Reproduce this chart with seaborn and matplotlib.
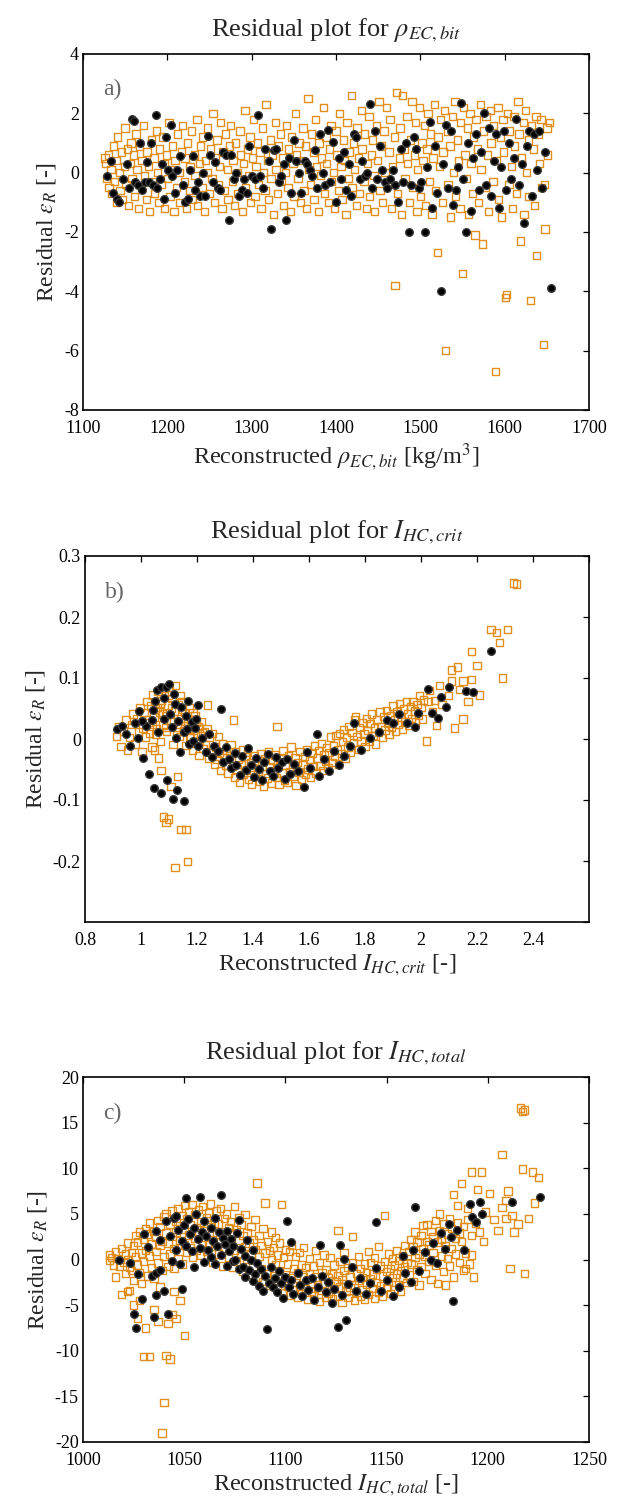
import matplotlib
matplotlib.use("Agg")
import matplotlib.pyplot as plt
import seaborn as sns

# ---------------- data ----------------
# Panel a: rho_EC,bit
a_orange = [
(1126,0.5),(1127,0.3),(1128,-0.2),(1130,0.6),(1131,-0.5),(1133,0.1),(1134,-0.7),(1136,0.9),(1137,-0.3),(1139,0.4),
(1140,-1.0),(1141,1.2),(1143,0.0),(1144,-0.6),(1146,0.7),(1147,-0.9),(1149,0.2),(1150,1.5),(1151,-0.4),(1153,0.8),
(1154,-1.1),(1156,0.3),(1157,1.0),(1158,-0.2),(1160,0.6),(1161,-0.8),(1163,1.3),(1164,0.1),(1166,-1.2),(1167,0.9),
(1169,-0.5),(1170,0.4),(1172,1.6),(1173,-0.1),(1175,-0.9),(1176,0.7),(1178,0.2),(1179,-1.3),(1181,1.1),(1182,-0.3),
(1184,0.5),(1185,-0.7),(1187,1.4),(1188,0.0),(1190,-1.0),(1191,0.8),(1193,-0.4),(1194,1.2),(1196,0.3),(1197,-1.2),
(1199,0.6),(1200,-0.2),(1202,1.7),(1203,-0.8),(1205,0.1),(1206,0.9),(1208,-1.3),(1209,0.4),(1211,-0.5),(1212,1.3),
(1214,0.0),(1215,-1.0),(1217,0.7),(1218,1.6),(1220,-0.3),(1221,0.5),(1223,-1.2),(1224,1.0),(1226,-0.6),(1227,0.2),
(1229,1.4),(1230,-0.9),(1232,0.6),(1233,-0.1),(1235,1.8),(1236,-1.1),(1238,0.3),(1239,0.9),(1241,-0.5),(1242,1.2),
(1244,-1.3),(1245,0.4),(1247,0.0),(1248,1.5),(1250,-0.7),(1251,0.8),(1253,-0.2),(1254,2.0),(1256,-1.0),(1257,0.5),
(1259,1.1),(1260,-0.4),(1262,0.2),(1263,1.7),(1265,-1.2),(1266,0.7),(1268,-0.6),(1269,1.3),(1271,0.1),(1272,-0.9),
(1274,0.9),(1275,1.6),(1277,-0.3),(1278,0.4),(1280,-1.1),(1281,1.0),(1283,0.0),(1284,-0.7),(1286,1.4),(1287,0.6),
(1289,-1.3),(1290,0.3),(1292,2.1),(1293,-0.5),(1295,0.8),(1296,-0.1),(1298,1.2),(1299,-1.0),(1301,0.5),(1302,1.8),
(1304,-0.8),(1305,0.2),(1307,1.0),(1308,-0.4),(1310,0.7),(1311,-1.2),(1313,1.5),(1314,0.0),(1316,-0.6),(1317,2.3),
(1319,0.4),(1320,-0.9),(1322,1.1),(1323,-0.2),(1325,0.6),(1326,-1.4),(1328,1.7),(1329,0.1),(1331,-0.7),(1332,0.9),
(1334,1.3),(1335,-0.3),(1337,0.5),(1338,-1.1),(1340,0.0),(1341,1.6),(1343,-0.5),(1344,0.8),(1346,-1.3),(1347,1.2),
(1349,0.3),(1350,-0.8),(1352,2.0),(1353,0.6),(1355,-0.2),(1356,1.0),(1358,-1.0),(1359,0.4),(1361,1.5),(1362,-0.6),
(1364,0.9),(1365,-1.2),(1367,2.5),(1368,0.1),(1370,-0.4),(1371,1.3),(1373,0.7),(1374,-0.9),(1376,1.8),(1377,0.2),
(1379,-1.3),(1380,1.0),(1382,-0.1),(1383,0.5),(1385,2.2),(1386,-0.7),(1388,1.2),(1389,0.3),(1391,-1.0),(1392,0.8),
(1394,1.6),(1395,-0.3),(1397,0.0),(1398,-1.2),(1400,1.4),(1401,0.6),(1403,-0.6),(1404,2.0),(1406,0.2),(1407,-0.9),
(1409,1.1),(1410,0.4),(1412,-1.4),(1413,1.7),(1415,-0.2),(1416,0.7),(1418,2.6),(1419,-0.5),(1421,1.0),(1422,0.1),
(1424,-1.1),(1425,1.5),(1427,0.5),(1428,-0.7),(1430,2.1),(1431,0.8),(1433,-0.3),(1434,1.3),(1436,-1.2),(1437,0.3),
(1439,1.9),(1440,-0.8),(1442,0.6),(1443,1.1),(1445,-0.1),(1446,-1.3),(1448,1.6),(1449,0.4),(1451,2.4),(1452,-0.6),
(1454,0.9),(1455,-1.0),(1457,1.4),(1458,0.0),(1460,2.2),(1461,-0.4),(1463,0.7),(1464,1.8),(1466,-1.2),(1467,0.2),
(1469,1.2),(1470,-3.8),(1472,2.7),(1473,-0.7),(1475,0.5),(1476,1.5),(1478,-1.4),(1479,2.6),(1481,0.8),(1482,-0.2),
(1484,1.9),(1485,0.3),(1487,-1.0),(1488,1.1),(1490,2.4),(1491,-0.5),(1493,0.6),(1494,1.7),(1496,-1.3),(1497,0.1),
(1499,2.2),(1500,-0.8),(1502,1.0),(1503,0.4),(1505,1.6),(1506,-1.1),(1508,0.8),(1509,2.0),(1511,-0.3),(1512,1.3),
(1514,-1.4),(1515,0.5),(1517,2.3),(1518,-0.6),(1520,-2.7),(1521,1.2),(1523,0.2),(1524,1.8),(1526,-1.0),(1527,0.7),
(1529,2.1),(1530,-6.0),(1532,1.4),(1533,-0.4),(1535,0.9),(1536,-1.5),(1538,1.9),(1539,0.0),(1541,2.4),(1542,-0.8),
(1544,1.1),(1545,0.4),(1547,-1.2),(1548,1.7),(1550,-3.4),(1551,2.2),(1553,0.6),(1554,-0.2),(1556,1.5),(1557,-1.4),
(1559,2.0),(1560,0.3),(1562,-0.7),(1563,1.2),(1565,-2.1),(1566,1.8),(1568,0.8),(1569,-1.0),(1571,2.3),(1572,0.1),
(1574,-2.4),(1575,1.4),(1577,-0.5),(1578,1.9),(1580,0.6),(1581,-1.3),(1583,2.1),(1584,1.0),(1586,-0.3),(1587,1.6),
(1589,-6.7),(1590,0.4),(1592,2.2),(1593,-0.9),(1595,1.2),(1596,-1.5),(1598,1.8),(1599,0.7),(1601,-4.2),(1602,-4.1),
(1603,2.0),(1605,-0.4),(1606,1.4),(1608,0.2),(1609,-1.2),(1611,1.9),(1612,0.9),(1614,-0.7),(1616,2.4),(1617,1.3),
(1619,-2.3),(1620,0.5),(1622,1.7),(1623,-1.4),(1625,2.1),(1626,0.0),(1628,1.1),(1629,-0.8),(1631,-4.3),(1632,1.6),
(1634,0.8),(1635,-1.1),(1637,1.9),(1638,-2.8),(1640,1.3),(1641,0.3),(1643,1.8),(1644,-0.5),(1646,-5.8),(1647,-0.4),
(1648,-1.9),(1650,1.5),(1651,0.6),(1653,1.7),
]
a_black = [
(1128,-0.1),(1133,0.4),(1135,-0.7),(1140,-0.9),(1143,-1.0),(1148,-0.2),(1152,0.3),(1155,-0.5),(1158,1.8),(1160,1.75),
(1162,-0.3),(1165,-0.4),(1168,1.0),(1170,-0.6),(1173,-0.3),(1176,0.35),(1178,-0.3),(1181,1.0),(1183,-0.4),(1186,1.95),
(1188,-0.5),(1191,-0.2),(1194,0.3),(1196,-0.9),(1199,1.2),(1201,0.1),(1204,1.6),(1206,-0.1),(1209,-0.7),(1212,0.1),
(1215,0.55),(1218,-0.4),(1221,-1.0),(1224,-0.9),(1227,0.1),(1230,0.55),(1233,-0.6),(1236,-0.3),(1239,-0.8),(1242,0.0),
(1245,-0.8),(1248,1.25),(1251,0.6),(1254,-0.3),(1257,0.35),(1260,-0.5),(1263,-0.6),(1266,0.7),(1270,0.6),(1273,-1.6),
(1276,0.6),(1279,-0.2),(1282,0.0),(1285,-0.8),(1288,-0.6),(1291,-0.2),(1294,-0.7),(1297,0.9),(1300,-0.1),(1304,-0.2),
(1307,1.95),(1310,-0.1),(1313,-0.5),(1316,0.8),(1320,0.4),(1323,-1.9),(1326,0.75),(1329,0.8),(1332,-0.3),(1335,-0.1),
(1338,0.3),(1341,-1.6),(1344,0.5),(1347,-0.7),(1350,1.1),(1353,0.4),(1356,0.0),(1359,-0.7),(1363,0.4),(1366,0.3),
(1369,0.1),(1372,-0.1),(1375,0.75),(1378,-0.5),(1381,1.3),(1384,0.0),(1387,-0.4),(1390,1.45),(1393,-0.3),(1397,1.05),
(1400,-1.0),(1403,0.5),(1406,-0.2),(1409,0.7),(1412,-0.6),(1415,0.3),(1418,-0.8),(1421,1.3),(1424,1.2),(1428,-0.2),
(1431,0.4),(1434,-0.1),(1437,0.0),(1440,2.3),(1443,-0.5),(1446,1.4),(1449,-0.2),(1452,0.9),(1455,0.1),(1458,-0.3),
(1461,-0.5),(1464,-0.2),(1467,0.1),(1470,-0.4),(1474,-1.0),(1477,0.8),(1480,-0.3),(1483,1.0),(1486,-2.0),(1489,-0.4),
(1492,1.2),(1495,0.8),(1498,-0.5),(1501,-0.3),(1505,-2.0),(1508,0.2),(1511,1.7),(1514,-1.2),(1517,0.9),(1520,-0.7),
(1524,-4.0),(1527,0.3),(1530,1.6),(1533,-0.5),(1536,1.4),(1539,-1.1),(1542,-0.6),(1545,0.2),(1548,2.35),(1551,-0.2),
(1554,-2.0),(1557,1.0),(1560,-1.3),(1563,0.5),(1566,1.3),(1569,-0.6),(1572,0.7),(1575,2.0),(1578,-0.4),(1581,1.5),
(1584,-0.8),(1587,0.4),(1590,1.3),(1593,-1.2),(1596,0.2),(1599,1.4),(1602,-0.6),(1605,1.0),(1608,-0.2),(1611,0.5),
(1614,1.8),(1617,-0.4),(1620,0.3),(1623,-1.7),(1626,0.9),(1629,1.4),(1632,-0.8),(1635,1.3),(1638,0.1),(1641,1.4),
(1644,-0.5),(1648,0.7),(1655,-3.9),
]

# Panel b: I_HC,crit
b_orange = [
(0.912,0.004),(0.921,0.021),(0.928,-0.012),(0.937,0.013),(0.946,0.031),(0.951,-0.018),(0.958,0.002),(0.966,0.024),(0.972,0.041),(0.979,-0.008),
(0.984,0.033),(0.991,0.012),(0.996,0.052),(1.003,-0.021),(1.007,0.018),(1.013,0.043),(1.016,0.003),(1.022,0.061),(1.025,0.027),(1.031,0.009),
(1.034,0.054),(1.039,-0.013),(1.043,0.072),(1.047,0.036),(1.052,0.049),(1.056,0.017),(1.061,0.078),(1.066,0.044),(1.069,-0.004),(1.074,0.063),
(1.078,0.023),(1.083,0.071),(1.087,0.038),(1.092,0.012),(1.096,0.056),(1.101,0.084),(1.106,0.031),(1.111,0.066),(1.114,-0.009),(1.119,0.046),
(1.124,0.088),(1.128,0.019),(1.133,0.057),(1.137,0.004),(1.142,0.034),(1.147,0.062),(1.151,0.013),(1.156,0.043),(1.161,-0.011),(1.165,0.022),
(1.171,0.051),(1.174,0.002),(1.179,0.031),(1.184,-0.018),(1.188,0.014),(1.193,0.038),(1.197,-0.007),(1.203,0.021),(1.207,-0.027),(1.212,0.006),
(1.216,0.029),(1.221,-0.016),(1.238,0.056),(1.226,0.012),(1.231,-0.009),(1.236,0.017),(1.241,-0.031),(1.245,0.002),(1.251,-0.022),(1.256,0.009),
(1.262,-0.041),(1.266,-0.013),(1.271,-0.034),(1.276,0.004),(1.281,-0.024),(1.285,-0.052),(1.291,-0.008),(1.295,-0.031),(1.301,-0.043),(1.306,-0.018),
(1.331,0.031),(1.311,-0.056),(1.316,-0.027),(1.321,-0.009),(1.326,-0.044),(1.334,-0.063),(1.338,-0.021),(1.343,-0.049),(1.348,-0.033),(1.352,-0.071),
(1.357,-0.042),(1.362,-0.017),(1.366,-0.058),(1.371,-0.029),(1.376,-0.051),(1.381,-0.022),(1.385,-0.066),(1.39,-0.038),(1.395,-0.074),(1.399,-0.047),
(1.404,-0.027),(1.409,-0.061),(1.413,-0.036),(1.418,-0.053),(1.423,-0.069),(1.427,-0.024),(1.432,-0.044),(1.437,-0.077),(1.441,-0.032),(1.446,-0.057),
(1.451,-0.064),(1.455,-0.021),(1.46,-0.046),(1.465,-0.072),(1.469,-0.035),(1.474,-0.052),(1.486,0.02),(1.479,-0.026),(1.484,-0.063),(1.488,-0.041),
(1.493,-0.075),(1.498,-0.033),(1.503,-0.056),(1.507,-0.019),(1.512,-0.067),(1.517,-0.043),(1.521,-0.071),(1.526,-0.028),(1.531,-0.054),(1.536,-0.013),
(1.54,-0.047),(1.545,-0.062),(1.55,-0.031),(1.554,-0.076),(1.559,-0.038),(1.564,-0.055),(1.568,-0.021),(1.573,-0.066),(1.578,-0.042),(1.583,-0.029),
(1.587,-0.058),(1.592,-0.017),(1.597,-0.049),(1.601,-0.034),(1.606,-0.063),(1.611,-0.024),(1.616,-0.045),(1.62,-0.011),(1.625,-0.056),(1.63,-0.031),
(1.635,-0.019),(1.639,-0.043),(1.644,-0.007),(1.649,-0.052),(1.654,-0.026),(1.658,-0.036),(1.663,-0.014),(1.668,-0.047),(1.672,-0.022),(1.677,0.003),
(1.682,-0.038),(1.687,-0.011),(1.691,-0.029),(1.696,0.006),(1.701,-0.018),(1.706,-0.041),(1.71,0.009),(1.715,-0.024),(1.72,-0.004),(1.724,0.016),
(1.729,-0.031),(1.734,0.002),(1.739,-0.013),(1.743,0.021),(1.748,-0.022),(1.753,0.011),(1.758,-0.006),(1.762,0.031),(1.767,0.036),(1.772,0.004),
(1.777,-0.017),(1.781,0.019),(1.786,-0.003),(1.791,0.027),(1.796,0.008),(1.8,-0.012),(1.805,0.034),(1.81,0.014),(1.815,-0.004),(1.819,0.025),
(1.824,0.041),(1.829,0.006),(1.834,0.018),(1.838,-0.008),(1.843,0.032),(1.848,0.011),(1.853,0.044),(1.857,0.021),(1.862,0.002),(1.867,0.037),
(1.872,0.015),(1.876,0.047),(1.881,0.026),(1.886,0.008),(1.891,0.039),(1.895,0.019),(1.9,0.054),(1.905,0.031),(1.91,0.012),(1.914,0.044),
(1.919,0.024),(1.924,0.058),(1.929,0.036),(1.933,0.016),(1.938,0.049),(1.943,0.029),(1.948,0.061),(1.952,0.041),(1.957,0.022),(1.962,0.053),
(1.967,0.034),(1.971,0.062),(1.976,0.046),(1.981,0.028),(1.986,0.057),(1.99,0.039),(1.995,0.071),(2.0,0.052),(2.005,0.033),(2.01,0.064),
(2.02,-0.003),(2.025,0.061),(2.031,0.079),(2.04,0.044),(2.048,0.063),(2.056,0.022),(2.066,0.088),(2.075,0.057),(2.11,0.113),(2.13,0.118),
(2.098,0.071),(2.11,0.095),(2.12,0.018),(2.15,0.033),(2.138,0.081),(2.15,0.095),(2.18,0.098),(2.18,0.143),(2.168,0.061),(2.2,0.121),
(2.21,0.072),(2.25,0.179),(2.27,0.175),(2.28,0.158),(2.29,0.10),(2.31,0.179),(2.33,0.256),(2.34,0.254),
(1.048,-0.018),(1.063,-0.031),(1.072,-0.052),(1.081,-0.128),(1.089,-0.137),(1.098,-0.131),(1.107,-0.078),(1.122,-0.211),(1.131,-0.062),(1.143,-0.148),
(1.161,-0.148),(1.165,-0.201),
(1.041,0.024),(1.058,0.052),(1.076,0.041),(1.098,0.072),(1.116,0.028),(1.139,0.071),(1.158,0.029),(1.177,0.004),(1.196,0.027),(1.219,0.011),
(1.029,0.031),(1.051,0.008),(1.068,0.058),(1.089,0.019),(1.108,0.051),(1.127,0.012),(1.149,0.048),(1.168,0.017),(1.186,0.043),(1.209,-0.003),
]
b_black = [
(0.915,0.017),(0.931,0.021),(0.948,0.008),(0.962,-0.012),(0.977,0.026),(0.988,0.002),(0.993,0.046),(1.008,-0.031),(1.019,0.022),(1.028,-0.058),
(1.038,0.031),(1.049,0.062),(1.047,-0.081),(1.061,0.012),(1.056,0.08),(1.072,-0.089),(1.07,0.086),(1.081,0.033),(1.089,0.085),(1.093,-0.068),
(1.102,0.041),(1.10,0.09),(1.112,0.019),(1.114,-0.098),(1.121,0.058),(1.124,0.002),(1.133,0.029),(1.129,-0.083),(1.142,0.052),(1.141,-0.021),
(1.153,0.012),(1.152,-0.101),(1.161,0.038),(1.166,0.017),(1.173,-0.008),(1.169,0.062),(1.182,0.028),(1.187,-0.003),(1.194,0.018),(1.203,-0.012),
(1.198,0.033),(1.205,0.056),(1.219,0.002),(1.231,-0.021),(1.242,0.008),(1.253,-0.029),(1.262,-0.011),(1.286,0.049),(1.274,-0.019),(1.293,-0.038),
(1.302,-0.013),(1.313,-0.032),(1.322,-0.048),(1.334,-0.023),(1.341,-0.042),(1.353,-0.059),(1.362,-0.028),(1.374,-0.051),(1.383,-0.014),(1.392,-0.043),
(1.404,-0.062),(1.411,-0.031),(1.423,-0.049),(1.432,-0.068),(1.441,-0.038),(1.452,-0.024),(1.461,-0.053),(1.473,-0.061),(1.482,-0.029),(1.491,-0.047),
(1.502,-0.038),(1.513,-0.066),(1.522,-0.032),(1.533,-0.057),(1.548,-0.041),(1.561,-0.052),(1.582,-0.079),(1.593,-0.021),(1.604,-0.048),(1.63,0.008),
(1.634,-0.061),(1.652,-0.032),(1.671,-0.053),(1.689,-0.019),(1.708,-0.042),(1.726,-0.028),(1.748,-0.012),(1.76,0.026),(1.787,-0.018),(1.818,0.002),
(1.849,0.012),(1.877,0.031),(1.90,0.027),(1.921,0.041),(1.95,0.027),(1.99,0.043),(1.978,0.019),(2.025,0.082),(2.06,0.035),(2.041,0.042),
(2.07,0.069),(2.09,0.053),(2.10,0.085),(2.16,0.078),(2.185,0.077),(2.25,0.145),(1.043,0.047),(1.083,0.068),(1.118,0.073),(1.003,0.029),
]

# Panel c: I_HC,total
c_orange = [
(1013,0.5),(1013,-0.1),(1014,0.2),(1015,-0.6),(1016,-1.9),(1016,0.9),(1017,0.1),(1018,-0.8),(1019,-3.8),(1019,1.2),
(1020,-0.3),(1021,0.6),(1021,-1.5),(1022,0.0),(1022,1.8),(1023,-0.9),(1023,-3.4),(1024,0.8),(1024,-1.2),(1025,1.5),
(1025,-2.3),(1026,0.3),(1026,2.6),(1027,-0.6),(1027,1.9),(1028,-1.4),(1028,3.0),(1029,0.7),(1029,-2.6),(1030,2.2),
(1030,-0.2),(1031,3.4),(1031,1.0),(1032,-1.8),(1032,2.8),(1033,0.4),(1033,4.0),(1034,-0.9),(1034,1.7),(1035,3.1),
(1035,-2.1),(1036,0.9),(1036,2.4),(1037,4.3),(1037,-0.4),(1038,1.5),(1038,3.6),(1039,-1.2),(1039,2.0),(1040,4.7),
(1040,0.3),(1041,2.9),(1041,5.0),(1042,-0.8),(1042,1.8),(1043,3.9),(1043,0.6),(1044,2.5),(1044,5.3),(1045,-1.0),
(1045,1.2),(1046,4.2),(1046,3.0),(1047,0.1),(1047,5.6),(1048,2.1),(1048,3.7),(1049,-0.5),(1049,4.8),(1050,1.6),
(1050,3.3),(1050,5.9),(1051,0.8),(1051,4.5),(1052,2.7),(1052,5.2),(1053,1.3),(1053,3.8),(1054,6.0),(1054,0.2),
(1055,2.3),(1055,4.9),(1056,3.5),(1056,1.0),(1057,5.5),(1057,2.9),(1058,4.1),(1058,0.5),(1059,1.9),(1059,5.8),
(1060,3.2),(1060,2.4),(1061,4.6),(1061,0.9),(1062,5.1),(1062,1.7),(1063,3.6),(1063,6.1),(1064,2.2),(1064,-0.3),
(1065,4.0),(1065,1.4),(1066,5.3),(1066,2.8),(1067,0.6),(1067,3.9),(1068,1.9),(1068,5.6),(1069,-0.7),(1069,3.1),
(1070,4.5),(1070,1.2),(1071,2.5),(1071,5.0),(1072,0.2),(1072,3.5),(1073,1.6),(1073,4.2),(1074,-0.9),(1074,2.9),
(1075,5.8),(1075,1.0),(1076,3.3),(1076,-0.2),(1077,2.1),(1077,4.6),(1078,0.7),(1078,3.8),(1079,-1.3),(1079,2.6),
(1080,1.4),(1080,4.9),(1081,0.0),(1081,2.9),(1082,-1.6),(1082,1.8),(1083,3.6),(1083,0.5),(1084,-0.8),(1084,2.2),
(1085,1.1),(1085,4.4),(1086,8.4),(1086,-1.9),(1087,0.3),(1087,2.6),(1088,-1.0),(1088,1.5),(1089,3.4),(1089,-2.4),
(1090,6.2),(1090,0.7),(1091,-1.5),(1091,2.0),(1092,1.0),(1092,-2.8),(1093,0.0),(1093,3.0),(1094,-1.8),(1094,1.3),
(1095,-0.6),(1095,2.4),(1096,-3.1),(1096,0.5),(1097,-1.2),(1097,1.8),(1098,-2.4),(1098,6.0),(1099,0.2),(1099,-3.6),
(1100,-1.7),(1100,1.1),(1101,-2.9),(1101,-0.5),(1102,0.9),(1102,-3.9),(1103,-2.0),(1103,1.6),(1104,-1.0),(1104,-3.3),
(1105,0.3),(1105,-2.5),(1106,-4.1),(1106,-1.4),(1107,0.8),(1107,-2.9),(1108,-0.6),(1108,-3.7),(1109,-1.9),(1109,1.3),
(1110,-3.2),(1110,-0.9),(1111,-2.2),(1111,-4.4),(1112,0.1),(1112,-1.6),(1113,-3.5),(1113,-2.6),(1114,-0.7),(1114,-4.0),
(1115,-1.9),(1115,1.0),(1116,-3.0),(1116,-2.3),(1117,-0.3),(1117,-4.6),(1118,-1.4),(1118,-3.4),(1119,-2.7),(1119,0.5),
(1120,-4.1),(1120,-1.1),(1121,-2.0),(1121,-3.7),(1122,0.2),(1122,-2.9),(1123,-1.5),(1123,-4.3),(1124,-3.2),(1124,-0.6),
(1125,-2.4),(1126,3.2),(1126,-4.0),(1126,-1.8),(1127,-0.2),(1127,-3.0),(1128,-2.2),(1128,-4.7),(1129,-1.2),(1129,0.8),
(1130,-3.5),(1130,-2.6),(1131,-0.9),(1131,-4.2),(1132,-1.9),(1132,-3.1),(1133,2.5),(1133,-0.4),(1134,-2.8),(1134,-4.5),
(1135,-1.5),(1135,-3.6),(1136,0.3),(1136,-2.3),(1137,-4.0),(1137,-1.0),(1138,-3.3),(1138,-2.0),(1139,-0.5),(1139,-4.4),
(1140,-2.7),(1140,-1.4),(1141,-3.8),(1141,0.9),(1142,-2.1),(1142,-0.3),(1143,-3.2),(1143,-1.6),(1144,-4.3),(1144,0.2),
(1145,-2.5),(1145,-1.1),(1146,-3.6),(1146,1.4),(1147,-0.7),(1147,-2.9),(1148,-1.8),(1148,-4.0),(1149,4.8),(1149,-0.2),
(1150,-3.1),(1150,-1.3),(1151,-2.4),(1151,0.6),(1152,-3.7),(1152,-1.0),(1153,-2.0),(1153,0.1),(1154,-3.3),(1154,-0.6),
(1155,-1.6),(1155,1.0),(1156,-2.8),(1156,-0.1),(1157,-1.2),(1157,-3.5),(1158,0.4),(1158,-2.1),(1159,-0.8),(1159,1.5),
(1160,-2.5),(1160,-0.3),(1161,0.9),(1161,-1.7),(1162,2.2),(1162,-0.5),(1163,-2.4),(1163,1.4),(1164,0.2),(1164,3.0),
(1165,-1.1),(1165,1.9),(1166,-2.8),(1166,0.6),(1167,2.6),(1167,-0.8),(1168,1.2),(1168,3.7),(1169,-1.5),(1169,0.3),
(1170,3.8),(1170,2.0),(1171,-0.2),(1171,1.6),(1172,3.1),(1172,-2.2),(1173,0.8),(1173,2.5),(1174,4.3),(1174,-0.6),
(1175,1.9),(1175,-2.6),(1176,5.0),(1176,3.2),(1177,0.4),(1177,2.2),(1178,-1.3),(1178,3.9),(1179,1.5),(1179,-2.8),
(1180,2.8),(1180,0.1),(1181,4.5),(1181,-0.7),(1182,1.2),(1182,3.4),(1183,7.1),(1183,-1.9),(1184,2.3),(1184,0.6),
(1185,5.9),(1185,4.0),(1186,-0.3),(1186,2.9),(1187,8.3),(1187,2.0),(1188,3.6),(1188,-1.2),(1189,0.7),(1189,-1.0),
(1190,5.6),(1190,4.4),(1191,-0.5),(1192,9.6),(1192,2.6),(1192,0.5),(1193,-1.9),(1194,4.0),(1195,7.7),(1196,3.0),
(1197,9.6),(1198,2.0),(1199,5.2),(1201,7.2),(1203,4.4),(1205,3.2),(1207,11.5),(1207,5.7),(1209,6.5),(1209,4.5),
(1210,7.5),(1211,-1.0),(1212,4.8),(1213,3.0),(1215,3.9),(1216,16.6),(1217,16.2),(1217,9.9),(1218,-1.5),(1218,16.4),
(1220,4.5),(1222,9.6),(1225,9.0),(1223,6.2),
(1022,-3.5),(1025,-5.0),(1027,-6.5),(1028,-4.5),(1030,-10.6),(1033,-10.6),(1031,-7.5),(1035,-5.5),(1037,-6.8),(1039,-19.0),
(1040,-15.7),(1041,-10.5),(1043,-10.9),(1042,-7.0),(1044,-6.0),(1046,-6.5),(1048,-4.5),(1050,-8.3),(1038,-3.0),(1045,-3.5),
]
c_black = [
(1018,-0.1),(1023,-0.4),(1025,-6.0),(1026,-7.5),(1027,-1.6),(1029,-4.3),(1030,2.8),(1032,1.4),(1034,-1.8),(1035,-6.3),
(1036,-1.5),(1036,3.1),(1036,-3.9),(1038,-1.2),(1038,2.1),(1040,-3.5),(1041,4.2),(1042,-6.0),(1043,2.6),(1044,-0.2),
(1045,4.5),(1046,4.8),(1046,1.0),(1047,3.2),(1048,-0.5),(1049,-3.2),(1049,2.0),(1050,3.8),(1051,6.7),(1051,1.5),
(1052,4.4),(1053,2.8),(1054,0.9),(1055,3.5),(1055,-0.8),(1056,5.0),(1057,2.2),(1058,6.8),(1058,1.3),(1059,3.0),
(1060,4.2),(1060,-0.3),(1061,2.6),(1062,1.0),(1063,3.4),(1063,0.3),(1064,2.0),(1065,4.6),(1065,-0.5),(1066,1.5),
(1067,3.0),(1068,7.1),(1068,0.5),(1069,2.4),(1070,1.7),(1071,-0.7),(1071,3.1),(1072,0.9),(1073,2.2),(1074,-0.2),
(1074,1.5),(1075,0.0),(1076,2.9),(1077,4.3),(1077,-1.0),(1078,1.2),(1079,-0.8),(1080,0.4),(1080,-1.9),(1081,2.1),
(1082,-1.2),(1083,0.0),(1084,-2.4),(1084,1.0),(1085,-1.6),(1086,-0.4),(1087,-2.9),(1088,-1.0),(1089,-3.4),(1090,-1.8),
(1091,-7.6),(1092,-2.6),(1093,-0.8),(1094,-3.0),(1095,-2.0),(1096,-3.6),(1097,-1.3),(1098,-2.6),(1099,-4.2),(1100,-1.9),
(1101,4.2),(1102,-3.0),(1103,1.9),(1103,-2.2),(1104,-3.8),(1106,-1.5),(1107,-2.8),(1108,-4.0),(1110,-2.3),(1111,-3.3),
(1113,-2.0),(1114,-4.4),(1116,-3.0),(1117,1.6),(1118,-1.8),(1120,-3.6),(1121,-2.5),(1123,-4.8),(1124,-3.2),(1126,-7.4),
(1127,1.6),(1128,-3.9),(1129,0.1),(1130,-6.6),(1131,-2.7),(1133,-0.8),(1135,-3.4),(1137,-2.0),(1140,-3.8),(1142,-2.6),
(1145,-0.9),(1145,4.1),(1147,-3.5),(1150,-2.2),(1153,-4.0),(1156,-3.0),(1158,0.4),(1159,-1.5),(1162,-2.5),(1163,1.0),
(1164,5.7),(1166,-1.3),(1169,0.8),(1172,0.0),(1173,1.8),(1175,-0.4),(1177,2.9),(1179,1.2),(1181,3.9),(1182,2.5),
(1183,-4.6),(1185,3.2),(1188,1.0),(1191,6.1),(1192,4.7),(1194,4.1),(1196,6.3),(1197,5.0),(1212,6.3),(1226,6.9),
]

titles = [r"Residual plot for $\rho_{EC,bit}$",
          r"Residual plot for $I_{HC,crit}$",
          r"Residual plot for $I_{HC,total}$"]
xlabels = [r"Reconstructed $\rho_{EC,bit}$ [kg/m$^3$]",
           r"Reconstructed $I_{HC,crit}$ [-]",
           r"Reconstructed $I_{HC,total}$ [-]"]
ylabel = r"Residual $\varepsilon_R$ [-]"
panel_tags = ["a)", "b)", "c)"]

a_xticks = [1100, 1200, 1300, 1400, 1500, 1600, 1700]
a_xticklabels = ["1100", "1200", "1300", "1400", "1500", "1600", "1700"]
a_yticks = [-8, -6, -4, -2, 0, 2, 4]
a_yticklabels = ["-8", "-6", "-4", "-2", "0", "2", "4"]
b_xticks = [0.8, 1.0, 1.2, 1.4, 1.6, 1.8, 2.0, 2.2, 2.4, 2.6]
b_xticklabels = ["0.8", "1", "1.2", "1.4", "1.6", "1.8", "2", "2.2", "2.4", ""]
b_yticks = [-0.3, -0.2, -0.1, 0.0, 0.1, 0.2, 0.3]
b_yticklabels = ["", "-0.2", "-0.1", "0", "0.1", "0.2", "0.3"]
c_xticks = [1000, 1050, 1100, 1150, 1200, 1250]
c_xticklabels = ["1000", "1050", "1100", "1150", "1200", "1250"]
c_yticks = [-20, -15, -10, -5, 0, 5, 10, 15, 20]
c_yticklabels = ["-20", "-15", "-10", "-5", "0", "5", "10", "15", "20"]

# ---------------- style ----------------
sns.set_theme(style="white")
plt.rcParams["font.family"] = ["Liberation Serif", "DejaVu Serif"]
plt.rcParams["mathtext.fontset"] = "stix"
plt.rcParams["axes.unicode_minus"] = False

ORANGE = "#E08A10"

W, H = 630, 1504
fig = plt.figure(figsize=(W / 100, H / 100), dpi=100)

rects_px = [(83, 54, 589, 410), (85, 556, 589, 922), (83, 1077, 589, 1442)]
limits = [((1100, 1700), (-8, 4)), ((0.8, 2.6), (-0.3, 0.3)), ((1000, 1250), (-20, 20))]
ticks = [(a_xticks, a_xticklabels, a_yticks, a_yticklabels),
         (b_xticks, b_xticklabels, b_yticks, b_yticklabels),
         (c_xticks, c_xticklabels, c_yticks, c_yticklabels)]
datasets = [(a_orange, a_black), (b_orange, b_black), (c_orange, c_black)]

for i in range(3):
    l, t, r, b = rects_px[i]
    ax = fig.add_axes([l / W, 1 - b / H, (r - l) / W, (b - t) / H])
    orange, black = datasets[i]
    ox = [p[0] for p in orange]
    oy = [p[1] for p in orange]
    bx = [p[0] for p in black]
    by = [p[1] for p in black]
    sns.scatterplot(x=ox, y=oy, ax=ax, marker="s", s=28, facecolors="none",
                    edgecolor=ORANGE, linewidth=1.0, alpha=0.95, zorder=2)
    sns.scatterplot(x=bx, y=by, ax=ax, marker="o", s=30, color="black",
                    edgecolor="#3a3a3a", linewidth=1.0, zorder=3)
    (x0, x1), (y0, y1) = limits[i]
    ax.set_xlim(x0, x1)
    ax.set_ylim(y0, y1)
    xt, xtl, yt, ytl = ticks[i]
    ax.set_xticks(xt)
    ax.set_xticklabels(xtl)
    ax.set_yticks(yt)
    ax.set_yticklabels(ytl)
    ax.tick_params(direction="in", length=4, width=0.9, top=True, right=True,
                   labelsize=13, colors="black")
    ax.tick_params(axis="x", pad=7)
    ax.tick_params(axis="y", pad=3)
    for sp in ax.spines.values():
        sp.set_visible(True)
        sp.set_color("black")
        sp.set_linewidth(1.2)
    ax.set_title(titles[i], fontsize=19, pad=13)
    ax.set_xlabel(xlabels[i], fontsize=17.5, labelpad=3)
    ax.set_ylabel(ylabel, fontsize=17, labelpad=4)
    ax.text(0.04, 0.93, panel_tags[i], transform=ax.transAxes, fontsize=17,
            color="#666666", ha="left", va="top")
    ax.grid(False)

fig.savefig("out.png", dpi=100)
